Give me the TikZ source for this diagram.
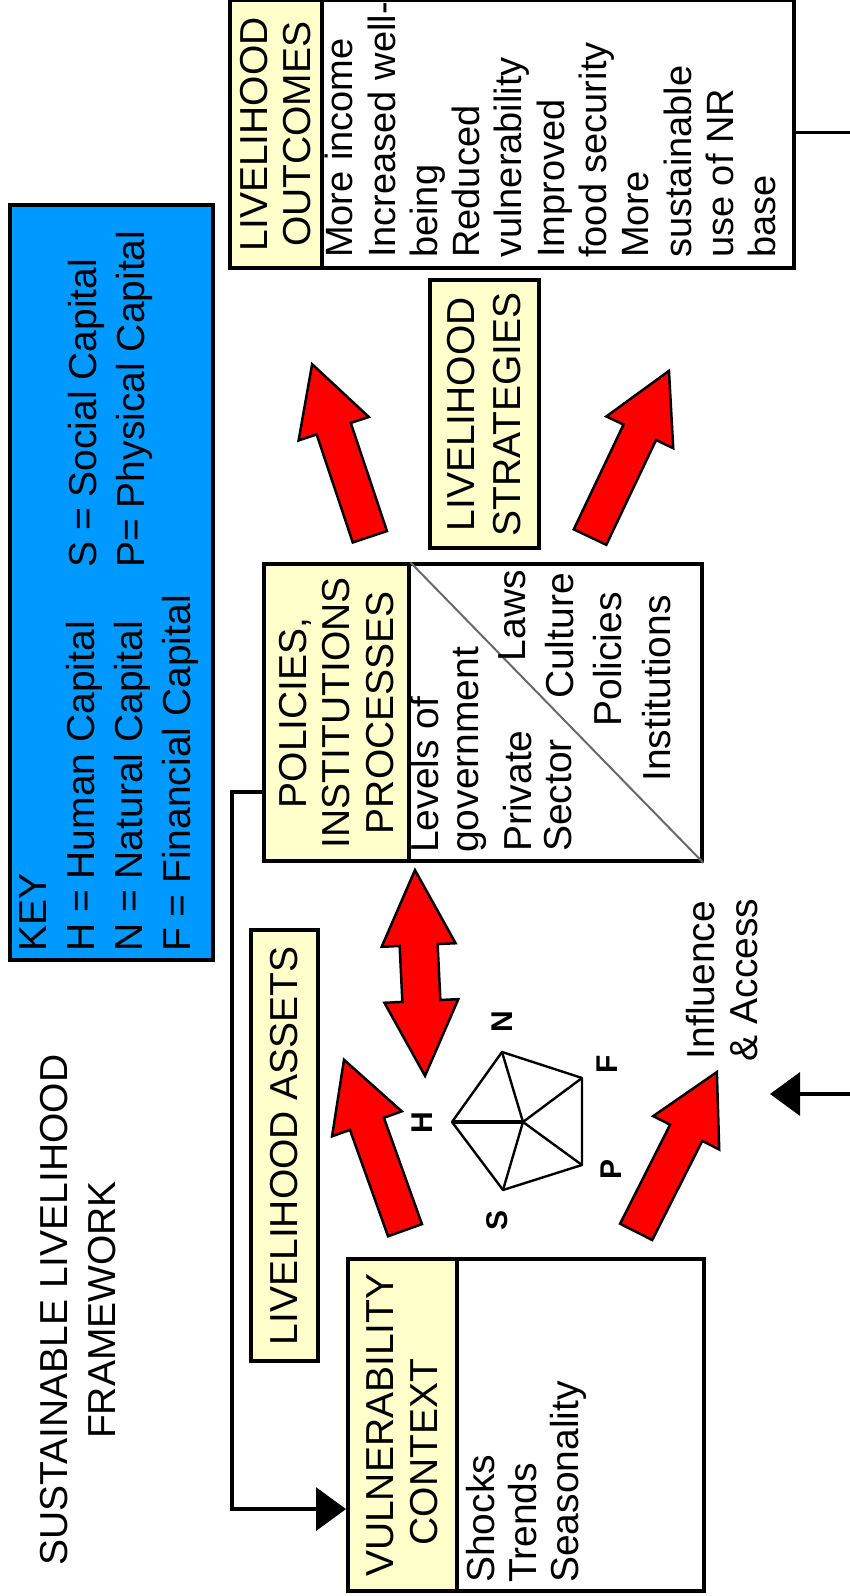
\documentclass[tikz,border=0pt]{standalone}
\usepackage{fontspec}
\setmainfont{Liberation Sans}
\usetikzlibrary{arrows.meta,calc}
\definecolor{keyblue}{RGB}{0,153,255}
\definecolor{headyellow}{RGB}{255,255,204}
\definecolor{diaggray}{RGB}{105,105,105}
\newcommand{\redarrow}[3]{%
  \begin{scope}[shift={#1}, rotate=#2]
    \filldraw[bigarrow] (-#3/2,-18) -- (#3/2-68,-18) -- (#3/2-68,-37) -- (#3/2,0)
      -- (#3/2-68,37) -- (#3/2-68,18) -- (-#3/2,18) -- cycle;
  \end{scope}}
\begin{document}
\begin{tikzpicture}[rotate=90, transform shape, x=1pt, y=-1pt,
    frame/.style={draw, line width=3.5pt, inner sep=0pt, anchor=north west},
    header/.style={frame, fill=headyellow, align=center, font=\fontsize{39}{43.5}\selectfont},
    txt/.style={inner sep=0pt, font=\fontsize{39}{43}\selectfont},
    webletter/.style={inner sep=0pt, font=\bfseries\fontsize{30}{30}\selectfont},
    web/.style={line width=2.4pt, line join=round},
    link/.style={line width=3.5pt},
    headtip/.style={-{Triangle[length=30pt,width=43pt]}},
    bigarrow/.style={draw=black, line width=2.5pt, fill=red, line join=miter}]
    \useasboundingbox (0,0) rectangle (1596,850);
    \node[txt, align=center, font=\fontsize{39}{48}\selectfont] (title) at (286,78) {SUSTAINABLE LIVELIHOOD\\FRAMEWORK};
    \node[frame, fill=keyblue, minimum width=755pt, minimum height=203pt] (key) at (634,8) {};
    \node[txt, align=left, anchor=north west, font=\fontsize{39}{48}\selectfont] (keyleft) at (644,19) {KEY\\H = Human Capital\\N = Natural Capital\\F = Financial Capital};
    \node[txt, align=left, anchor=north west, font=\fontsize{39}{48}\selectfont] (keyright) at (1028,68) {S = Social Capital\\P= Physical Capital};
    \node[frame, minimum width=268pt, minimum height=564pt] (outc) at (1326,228) {};
    \node[header, minimum width=268pt, minimum height=92pt] (outchead) at (1326,228) {LIVELIHOOD\\OUTCOMES};
    \node[txt, align=left, anchor=north west, font=\fontsize{38}{42.3}\selectfont] (outclist) at (1338,325) {More income\\Increased well-\\being\\Reduced\\vulnerability\\Improved\\food security\\More\\sustainable\\use of NR\\base};
    \node[header, minimum width=268pt, minimum height=109pt, font=\fontsize{39}{46}\selectfont] (strat) at (1046,428) {LIVELIHOOD\\STRATEGIES};
    \node[frame, minimum width=297pt, minimum height=438pt] (pip) at (733,262) {};
    \node[header, minimum width=297pt, minimum height=145pt] (piphead) at (733,262) {POLICIES,\\INSTITUTIONS\\PROCESSES};
    \draw[line width=2pt, diaggray] (piphead.south east) -- (pip.south west);
    \node[txt, align=left, anchor=north west, font=\fontsize{39}{40}\selectfont] (levels) at (743,410) {Levels of\\government};
    \node[txt, align=left, anchor=north west, font=\fontsize{39}{40}\selectfont] (private) at (744,503) {Private\\Sector};
    \node[txt, anchor=north east] (laws) at (1026,498) {Laws};
    \node[txt, anchor=north east] (culture) at (1023,545) {Culture};
    \node[txt, anchor=north east] (policies) at (1004,593) {Policies};
    \node[txt, anchor=north east] (institutions) at (1001,642) {Institutions};
    \node[header, minimum width=431pt, minimum height=67pt] (assets) at (233,249) {LIVELIHOOD ASSETS};
    \node[frame, minimum width=332pt, minimum height=356pt] (vuln) at (3,346) {};
    \node[header, minimum width=332pt, minimum height=109pt] (vulnhead) at (3,346) {VULNERABILITY\\CONTEXT\hspace*{54pt}};
    \node[txt, align=left, anchor=north west, font=\fontsize{39}{42}\selectfont] (vulnlist) at (13,466) {Shocks\\Trends\\Seasonality};
    \node[txt, align=center] (infl) at (616,722) {Influence\\\& Access};
    \coordinate (cH) at (474,452);
    \coordinate (cN) at (544,502);
    \coordinate (cF) at (518,582);
    \coordinate (cP) at (431,582);
    \coordinate (cS) at (406,503);
    \coordinate (cC) at (474,523);
    \draw[web] (cH) -- (cN) -- (cF) -- (cP) -- (cS) -- cycle;
    \draw[web] (cC) -- (cN) (cC) -- (cF) (cC) -- (cP) (cC) -- (cS);
    \draw[web, line width=3.5pt] (cC) -- (cH);
    \node[webletter] (labH) at (473,422) {H};
    \node[webletter] (labN) at (574,502) {N};
    \node[webletter] (labF) at (532,607) {F};
    \node[webletter] (labP) at (427,611) {P};
    \node[webletter] (labS) at (376,497) {S};
    \redarrow{(451,374.5)}{19.7}{181}
    \redarrow{(444,676.5)}{-26.8}{179}
    \redarrow{(1145.5,341)}{18.5}{182}
    \redarrow{(1142,629.5)}{-25.4}{184}
    \begin{scope}[shift={(623,420)}, rotate=2.8]
      \filldraw[bigarrow] (-103,0) -- (-28,-37) -- (-28,-19) -- (28,-19) -- (28,-37) -- (103,0)
        -- (28,37) -- (28,19) -- (-28,19) -- (-28,37) -- cycle;
    \end{scope}
    \draw[link, headtip] ($(pip.north west)!0.236!(pip.north east)$) -- ++(0,-30) -- ++(-717,0) -- ++(0,114);
    \draw[link] ($(outc.south west)!0.507!(outc.south east)$) -- ++(0,58);
    \coordinate (inflow) at (502,850);
    \draw[link, headtip] (inflow) -- ++(0,-80);
\end{tikzpicture}
\end{document}
